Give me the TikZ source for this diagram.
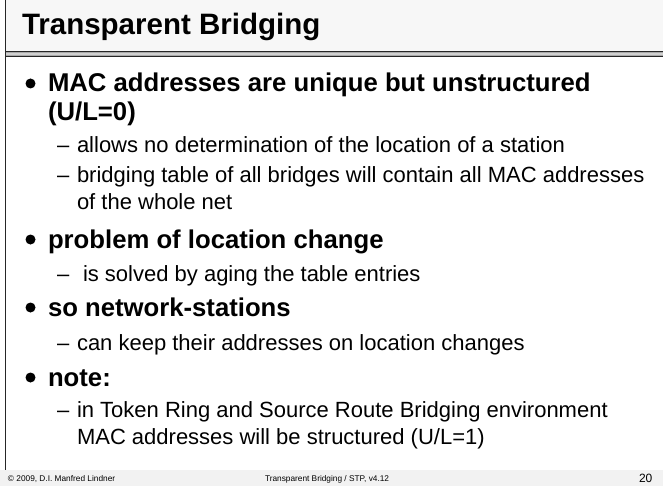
\documentclass[tikz,border=0pt]{standalone}
\usepackage{fontspec}
\setmainfont{Liberation Sans}
\newfontfamily\titlefam{Liberation Sans}
\newfontfamily\bodyfam{Liberation Sans}
\newfontfamily\subfam{Liberation Sans}
\newfontfamily\footfam{Liberation Sans}
\definecolor{titlebg}{HTML}{F7F7F7}
\definecolor{footbg}{HTML}{F2F2F2}
\definecolor{barmid}{HTML}{A8A8A8}
\definecolor{barlight}{HTML}{D0D0D0}
\tikzset{
  txt/.style={anchor=base west, inner sep=0pt, outer sep=0pt},
  titletxt/.style={txt, font=\titlefam\bfseries\fontsize{29.5}{33}\selectfont},
  lvlone/.style={txt, font=\bodyfam\bfseries\fontsize{25.7}{30}\selectfont},
  lvltwo/.style={txt, font=\subfam\fontsize{22}{26}\selectfont},
  bulletdot/.style={circle, fill=black, inner sep=0pt, minimum size=10pt},
  foottxt/.style={txt, font=\footfam\fontsize{8.3}{10}\selectfont},
}
\begin{document}
\begin{tikzpicture}[x=1pt,y=-1pt]
\useasboundingbox (0,0) rectangle (663,486);
\fill[white] (0,0) rectangle (663,486);
% title area
\fill[titlebg] (5,0) rectangle (663,51);
\fill[footbg] (0,470) rectangle (663,486);
% bar
\fill[barmid] (5,51) rectangle (663,57);
\fill[barlight] (5,53) rectangle (663,55);
\draw[black!85, line width=1.2pt] (5,51.6) -- (663,51.6);
\draw[black!85, line width=1.2pt] (5,56.4) -- (663,56.4);
% left border
\draw[black!85, line width=1.5pt] (5.6,0) -- (5.6,470);

\node[titletxt] (title) at (22,35) {Transparent Bridging};

% bullet 1
\node[bulletdot] (b1) at (30.5,83.5) {};
\node[lvlone] (t1) at (48,92) {MAC addresses are unique but unstructured};
\node[lvlone] (t1b) at (48,121) {(U/L=0)};
\node[lvltwo] (d1) at (57,153) {–};
\node[lvltwo] (s1) at (77,153) {allows no determination of the location of a station};
\node[lvltwo] (d2) at (57,183) {–};
\node[lvltwo] (s2) at (77,183) {bridging table of all bridges will contain all MAC addresses};
\node[lvltwo] (s2b) at (77,210) {of the whole net};

% bullet 2
\node[bulletdot] (b2) at (30.5,239.5) {};
\node[lvlone] (t2) at (48,248) {problem of location change};
\node[lvltwo] (d3) at (57,281) {–};
\node[lvltwo] (s3) at (83,281) {is solved by aging the table entries};

% bullet 3
\node[bulletdot] (b3) at (30.5,307.5) {};
\node[lvlone] (t3) at (48,316) {so network-stations};
\node[lvltwo] (d4) at (57,350) {–};
\node[lvltwo] (s4) at (77,350) {can keep their addresses on location changes};

% bullet 4
\node[bulletdot] (b4) at (30.5,377.5) {};
\node[lvlone] (t4) at (48,386) {note:};
\node[lvltwo] (d5) at (57,417) {–};
\node[lvltwo] (s5) at (77,417) {in Token Ring and Source Route Bridging environment};
\node[lvltwo] (s5b) at (77,444) {MAC addresses will be structured (U/L=1)};

% footer
\node[foottxt] (f1) at (8,481) {© 2009, D.I. Manfred Lindner};
\node[foottxt] (f2) at (265,481) {Transparent Bridging / STP, v4.12};
\node[foottxt, font=\footfam\fontsize{12}{14}\selectfont] (f3) at (639,482) {20};
\end{tikzpicture}
\end{document}
